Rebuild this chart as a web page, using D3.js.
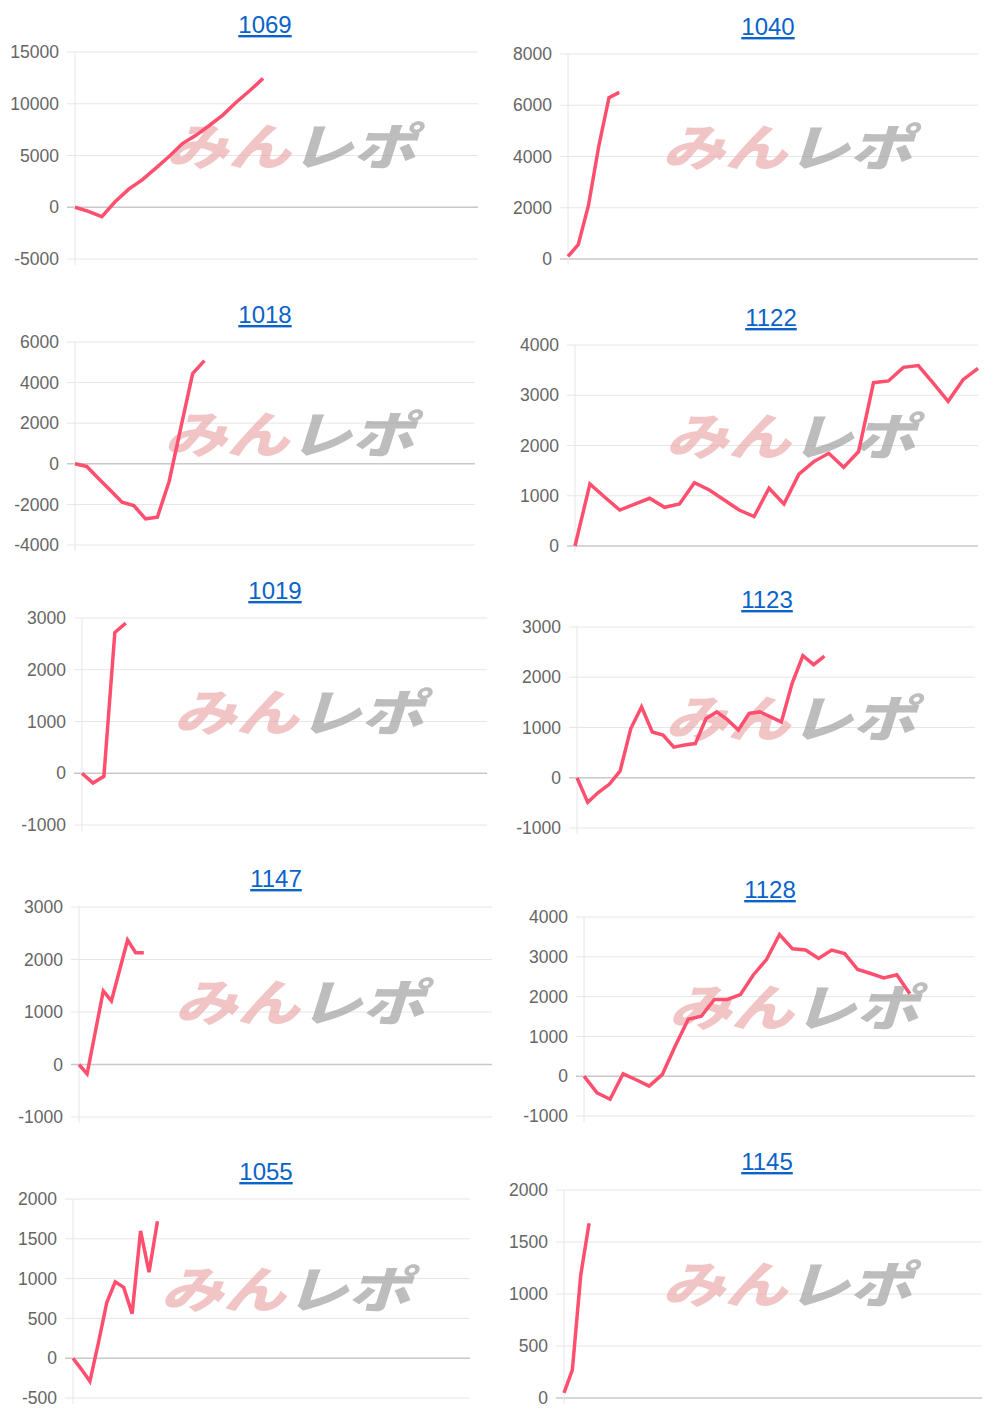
<!DOCTYPE html>
<html><head><meta charset="utf-8">
<script src="https://cdn.jsdelivr.net/npm/d3@7"></script>
<style>body{margin:0;background:#fff}svg{display:block}</style>
</head><body>
<svg id="c" width="1000" height="1418"></svg>
<script>
const titles = ["1069","1040","1018","1122","1019","1123","1147","1128","1055","1145"];
const v1069 = [0,-400,-900,550,1750,2650,3750,4900,6150,6950,7900,8900,10150,11250,12450];
const v1040 = [100,560,2100,4400,6300,6500];
const v1018 = [0,-130,-720,-1300,-1890,-2060,-2710,-2630,-870,1800,4440,5080];
const v1122 = [0,1235,970,715,835,950,770,835,1260,1115,915,715,585,1150,835,1430,1680,1845,1565,1880,3250,3285,3555,3590,3240,2880,3310,3535];
const v1019 = [0,-190,-60,2720,2900];
const v1123 = [0,-490,-290,-130,130,980,1410,910,850,610,650,680,1180,1310,1150,950,1280,1310,1210,1110,1880,2430,2250,2420];
const v1147 = [0,-180,610,1400,1210,1790,2370,2130,2130];
const v1128 = [0,-420,-580,60,-90,-250,40,760,1430,1510,1930,1930,2050,2550,2930,3560,3200,3170,2960,3170,3080,2680,2580,2470,2550,2070];
const v1055 = [0,-140,-290,190,700,960,890,560,1600,1080,1720];
const v1145 = [50,270,1180,1680];
const series = [v1069,v1040,v1018,v1122,v1019,v1123,v1147,v1128,v1055,v1145];
const slotCounts = [31,41,35,28,38,38,52,31,48,51];
const yMin = [-5000,0,-4000,0,-1000,-1000,-1000,-1000,-500,0];
const yMax = [15000,8000,6000,4000,3000,3000,3000,4000,2000,2000];
const yStep = [5000,2000,2000,1000,1000,1000,1000,1000,500,500];

// layout: [left, right, top, bottom, titleCx, titleBaseline]
const layout = [
  [75,478,52,259,265,33],
  [568,978,54,259,768,35],
  [75,475,342,545,265,323],
  [575,978,345,546,771,326],
  [82,487,618,825,275,599],
  [577,975,627,828,767,608],
  [79,492,907,1117,276,887],
  [584,975,917,1116,770,898],
  [73,470,1199,1398,266,1180],
  [564,982,1190,1398,767,1170]
];

const svg = d3.select("#c");
const font = "'Liberation Sans', Arial, sans-serif";

titles.forEach((t,i)=>{
  const [L,R,T,B,cx,tb] = layout[i];
  const g = svg.append("g");
  const x = d3.scaleLinear().domain([0, slotCounts[i]-1]).range([L,R]);
  const y = d3.scaleLinear().domain([yMin[i], yMax[i]]).range([B,T]);
  const ticks = d3.range(yMin[i], yMax[i]+1, yStep[i]);
  g.selectAll("line.g").data(ticks).join("line")
    .attr("x1",L-8).attr("x2",R).attr("y1",d=>y(d)).attr("y2",d=>y(d))
    .attr("stroke",d=>d===0?"#c8c8c8":"#e6e6e6").attr("stroke-width",d=>d===0?1.5:1);
  g.append("line").attr("x1",L).attr("x2",L).attr("y1",T).attr("y2",B+6)
    .attr("stroke","#e6e6e6");
  const ax = d3.axisLeft(y).tickValues(ticks).tickSize(0).tickPadding(0).tickFormat(d=>String(d));
  const ag = g.append("g").attr("transform",`translate(${L-16},0)`).call(ax);
  ag.select(".domain").remove();
  ag.selectAll("text").attr("fill","#666").attr("font-size",17.5).attr("font-family",font);
  const wx = (L+R)/2+14, wy = (T+B)/2-13;
  const wm = g.append("text").attr("x",wx-125).attr("y",wy+22)
    .attr("font-family","'Noto Sans CJK JP', sans-serif").attr("font-weight",900)
    .attr("font-size",50).attr("font-style","italic")
    .attr("textLength",250).attr("lengthAdjust","spacingAndGlyphs");
  wm.append("tspan").text("みん").attr("fill","#e9a6a6").attr("fill-opacity",0.65);
  wm.append("tspan").text("レポ").attr("fill","#999").attr("fill-opacity",0.65);
  const line = d3.line().x((d,j)=>x(j)).y(d=>y(d));
  g.append("path").datum(series[i]).attr("d",line).attr("fill","none")
    .attr("stroke","#ff4f6e").attr("stroke-width",3.5).attr("stroke-linejoin","miter");
  g.append("text").attr("x",cx).attr("y",tb).attr("text-anchor","middle")
    .attr("font-family",font).attr("font-size",24).attr("fill","#0a63c9")
    .attr("text-decoration","underline").text(t);
});
</script>
</body></html>
